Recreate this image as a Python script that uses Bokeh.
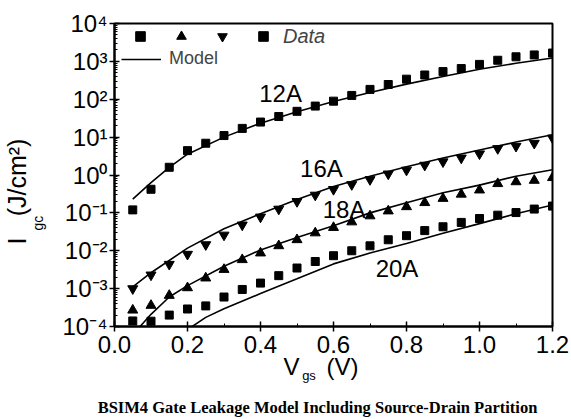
from bokeh.plotting import figure
from bokeh.models import (Range1d, FixedTicker, CustomJSTickFormatter, Label, LinearAxis,
                          LinearScale, Legend, LegendItem, NumeralTickFormatter)
from bokeh.embed import file_html
from bokeh.resources import INLINE

# ---------------- data ----------------
v_data = [0.05, 0.10, 0.15, 0.20, 0.25, 0.30, 0.35, 0.40, 0.45, 0.50, 0.55, 0.60,
          0.65, 0.70, 0.75, 0.80, 0.85, 0.90, 0.95, 1.00, 1.05, 1.10, 1.15, 1.20]

data_12a = [1.2e-1, 4.2e-1, 1.6, 4.4, 6.9, 11, 17, 25, 35, 48, 66, 89,
            126, 182, 245, 339, 437, 537, 646, 832, 1070, 1320, 1480, 1660]
data_16a = [1.0e-3, 2.3e-3, 4.4e-3, 8.1e-3, 1.45e-2, 2.6e-2, 4.8e-2, 7.8e-2, 0.126, 0.20, 0.295, 0.417,
            0.56, 0.76, 1.07, 1.35, 1.82, 2.24, 2.82, 3.63, 5.0, 5.75, 6.9, 9.5]
data_18a = [2.7e-4, 3.6e-4, 6.6e-4, 1.05e-3, 1.9e-3, 3.2e-3, 5.8e-3, 8.7e-3, 1.35e-2, 1.95e-2, 2.95e-2, 4.1e-2,
            5.75e-2, 8.3e-2, 0.112, 0.145, 0.186, 0.24, 0.31, 0.40, 0.59, 0.66, 0.72, 0.85]
data_20a = [1.4e-4, 1.38e-4, 2.0e-4, 2.9e-4, 3.5e-4, 6.0e-4, 9.5e-4, 1.4e-3, 2.2e-3, 3.5e-3, 5.2e-3, 7.4e-3,
            1.0e-2, 1.35e-2, 1.95e-2, 2.5e-2, 3.4e-2, 4.3e-2, 5.6e-2, 7.1e-2, 8.7e-2, 0.102, 0.126, 0.151]

v_model_12a = [0.05, 0.10, 0.15, 0.20, 0.30, 0.40, 0.50, 0.60, 0.70, 0.80, 0.90, 1.00, 1.10, 1.20]
model_12a = [0.23, 0.63, 1.58, 3.55, 10, 23.4, 46.8, 87, 151, 251, 398, 617, 891, 1230]

v_model_16a = [0.05, 0.10, 0.20, 0.30, 0.40, 0.50, 0.60, 0.70, 0.80, 0.90, 1.00, 1.10, 1.20]
model_16a = [1.12e-3, 2.63e-3, 1.17e-2, 3.8e-2, 9.5e-2, 0.224, 0.50, 0.93, 1.66, 2.82, 4.57, 7.4, 11.5]

v_model_18a = [0.07, 0.10, 0.15, 0.20, 0.30, 0.40, 0.50, 0.60, 0.70, 0.80, 0.90, 1.00, 1.10, 1.20]
model_18a = [1.0e-4, 2.1e-4, 6.0e-4, 1.2e-3, 3.9e-3, 1.05e-2, 2.24e-2, 4.6e-2, 0.10, 0.186, 0.34, 0.54, 0.93, 1.38]

v_model_20a = [0.20, 0.25, 0.30, 0.40, 0.50, 0.60, 0.70, 0.80, 0.90, 1.00, 1.10, 1.20]
model_20a = [8.3e-5, 1.74e-4, 2.95e-4, 7.4e-4, 1.82e-3, 4.5e-3, 8.7e-3, 1.55e-2, 2.9e-2, 5.2e-2, 9.5e-2, 0.162]

curve_names = ["12A", "16A", "18A", "20A"]
curve_label_v = [0.455, 0.567, 0.629, 0.774]
curve_label_i = [145, 1.48, 0.126, 3.5e-3]

x_ticks = [0.0, 0.2, 0.4, 0.6, 0.8, 1.0, 1.2]
x_minor = [0.1, 0.3, 0.5, 0.7, 0.9, 1.1]
y_exps = [-4, -3, -2, -1, 0, 1, 2, 3, 4]

x_title_main = {177: "V", 228: "(V)"}
x_title_sub = {194.5: "gs"}
y_title_main = {86: "I", 150: "(J/cm\u00b2)"}
y_title_sub = {104: "gc"}
caption = {203: "BSIM4 Gate Leakage Model Including Source-Drain Partition"}

# ---------------- figure ----------------
SANS = "Liberation Sans"
FRAME_W, FRAME_H = 438, 305
p = figure(width=571, height=419, x_range=Range1d(0, 1.2), y_range=Range1d(1e-4, 1e4),
           y_axis_type="log", output_backend="svg", toolbar_location=None,
           min_border_left=114, min_border_right=19, min_border_top=23, min_border_bottom=91)
p.grid.visible = False
p.outline_line_color = "black"
p.outline_line_width = 2
p.background_fill_color = "white"
p.border_fill_color = "white"

for ax in (p.xaxis[0], p.yaxis[0]):
    ax.axis_line_width = 2
    ax.major_tick_line_width = 1.5
    ax.minor_tick_line_width = 1
    ax.major_tick_in = 5
    ax.major_tick_out = 5
    ax.minor_tick_in = 3
    ax.minor_tick_out = 0
    ax.major_label_text_font = SANS
    ax.major_label_text_font_size = "24px"
    ax.major_label_text_color = "black"
    ax.axis_label = None

p.xaxis.ticker = FixedTicker(ticks=x_ticks, minor_ticks=x_minor)
p.xaxis.formatter = NumeralTickFormatter(format="0.0")
p.xaxis.major_label_standoff = 4

y_major = [10.0 ** e for e in y_exps]
y_minor = [k * 10.0 ** e for e in y_exps[:-1] for k in range(2, 10)]
p.yaxis.ticker = FixedTicker(ticks=y_major, minor_ticks=y_minor)
p.yaxis.formatter = CustomJSTickFormatter(code="""
const e = Math.round(Math.log10(tick));
const sup = {"-": "\u207b", "0": "\u2070", "1": "\u00b9", "2": "\u00b2", "3": "\u00b3",
             "4": "\u2074", "5": "\u2075", "6": "\u2076", "7": "\u2077", "8": "\u2078", "9": "\u2079"};
return "10" + String(e).split("").map(c => sup[c]).join("");
""")
p.yaxis.major_label_standoff = 2

# text-only axes used for the composed axis titles and the caption
p.extra_x_ranges = {"lab": Range1d(0, FRAME_W)}
p.extra_y_ranges = {"lab": Range1d(0, FRAME_H)}
p.extra_x_scales = {"lab": LinearScale()}
p.extra_y_scales = {"lab": LinearScale()}

def text_axis(kind, labels, size, standoff, font=SANS, style="normal", orient="horizontal"):
    if kind == "x":
        ax = LinearAxis(x_range_name="lab")
    else:
        ax = LinearAxis(y_range_name="lab")
    ax.ticker = FixedTicker(ticks=list(labels.keys()), minor_ticks=[])
    ax.major_label_overrides = dict(labels)
    ax.axis_line_color = None
    ax.major_tick_line_color = None
    ax.minor_tick_line_color = None
    ax.major_tick_out = 0
    ax.major_tick_in = 0
    ax.major_label_standoff = standoff
    ax.major_label_text_font = font
    ax.major_label_text_font_size = size
    ax.major_label_text_font_style = style
    ax.major_label_text_color = "black"
    ax.major_label_orientation = orient
    p.add_layout(ax, "below" if kind == "x" else "left")
    return ax

text_axis("x", x_title_main, "24px", -3)
text_axis("x", x_title_sub, "13px", -15)
text_axis("x", caption, "16.5px", 12, font="Liberation Serif", style="bold")
text_axis("y", y_title_sub, "14px", 13, orient="vertical")
text_axis("y", y_title_main, "25px", -4, orient="vertical")

# model lines
lines = []
for vx, vy in [(v_model_12a, model_12a), (v_model_16a, model_16a),
               (v_model_18a, model_18a), (v_model_20a, model_20a)]:
    lines.append(p.line(vx, vy, line_color="black", line_width=1.6))

# data markers
r12 = p.scatter(v_data, data_12a, marker="square", size=8, fill_color="black", line_color="black")
r18 = p.scatter(v_data, data_18a, marker="triangle", size=10, fill_color="black", line_color="black")
r16 = p.scatter(v_data, data_16a, marker="inverted_triangle", size=10, fill_color="black", line_color="black")
r20 = p.scatter(v_data, data_20a, marker="square", size=8, fill_color="black", line_color="black")

# curve labels
for name, vx, vy in zip(curve_names, curve_label_v, curve_label_i):
    p.add_layout(Label(x=vx, y=vy, text=name, text_align="center", text_baseline="middle",
                       text_font=SANS, text_font_size="24px", text_color="black"))

# legends
leg1 = Legend(items=[LegendItem(label="", renderers=[r12]),
                     LegendItem(label="", renderers=[r18]),
                     LegendItem(label="", renderers=[r16]),
                     LegendItem(label="Data", renderers=[r20])],
              orientation="horizontal", location=(6, 278), glyph_width=40, glyph_height=24,
              label_width=0, label_standoff=0, spacing=1, padding=0, margin=0,
              border_line_color=None, background_fill_alpha=0,
              label_text_font=SANS, label_text_font_style="italic", label_text_font_size="20px")
leg2 = Legend(items=[LegendItem(label="Model", renderers=[lines[0]])],
              orientation="horizontal", location=(7, 257), glyph_width=40, glyph_height=20,
              label_standoff=8, padding=0, margin=0,
              border_line_color=None, background_fill_alpha=0,
              label_text_font=SANS, label_text_font_size="18px")
p.add_layout(leg1)
p.add_layout(leg2)

open("out.html", "w").write(file_html(p, INLINE))
